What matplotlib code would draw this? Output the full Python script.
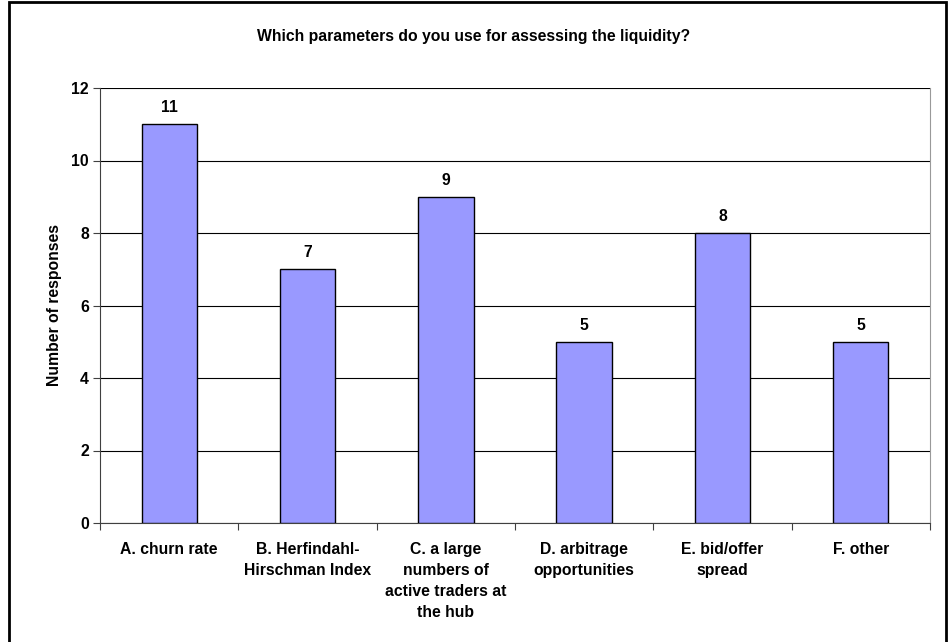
import matplotlib
matplotlib.use('Agg')
import matplotlib.pyplot as plt
from matplotlib.patches import Rectangle

# --- Data ---
CATEGORIES = [
    'A. churn rate',
    'B. Herfindahl-\nHirschman Index',
    'C. a large\nnumbers of\nactive traders at\nthe hub',
    'D. arbitrage\nopportunities',
    'E. bid/offer\nspread',
    'F. other',
]
RESPONSES = [11, 7, 9, 5, 8, 5]
Y_TICKS = [0, 2, 4, 6, 8, 10, 12]

TITLE = 'Which parameters do you use for assessing the liquidity?'
Y_LABEL = 'Number of responses'

BAR_COLOR = '#9999FF'
FS = 11.3

plt.rcParams['font.family'] = ['Liberation Sans', 'DejaVu Sans']
plt.rcParams['font.weight'] = 'bold'

fig = plt.figure(figsize=(9.49, 6.42), dpi=100)
W, H = 949, 642
ax = fig.add_axes([100 / W, (H - 523) / H, 830 / W, 435 / H])

x = list(range(len(CATEGORIES)))
bars = ax.bar(x, RESPONSES, width=0.4, color=BAR_COLOR, edgecolor='black',
              linewidth=1.0, zorder=3)

# value labels above bars
for b, v in zip(bars, RESPONSES):
    ax.annotate(str(v), (b.get_x() + b.get_width() / 2, v), xytext=(0, 6.5),
                textcoords='offset points', ha='center', va='bottom',
                fontsize=FS, fontweight='bold')

ax.set_xlim(-0.5, len(CATEGORIES) - 0.5)
ax.set_ylim(0, 12)
ax.set_yticks(Y_TICKS)
ax.yaxis.grid(True, color='black', linewidth=0.8, zorder=0)
ax.set_axisbelow(True)

# category labels centred, tick marks on category boundaries
ax.set_xticks(x)
ax.set_xticklabels(CATEGORIES, fontsize=FS, fontweight='bold', linespacing=1.48)
ax.tick_params(axis='x', which='major', length=0, pad=14)
ax.set_xticks([i - 0.5 for i in range(len(CATEGORIES) + 1)], minor=True)
ax.tick_params(axis='x', which='minor', length=5, width=0.8, color='#404040', direction='out')
ax.tick_params(axis='y', length=5, width=0.8, color='#404040', labelsize=FS, pad=3)
for lbl in ax.get_yticklabels():
    lbl.set_fontweight('bold')

ax.spines['top'].set_visible(False)
ax.spines['left'].set_color('#404040')
ax.spines['bottom'].set_color('#404040')
ax.spines['right'].set_color('#999999')
for s in ax.spines.values():
    s.set_linewidth(0.8)

ax.set_ylabel(Y_LABEL, fontsize=FS, fontweight='bold', labelpad=7)
fig.text(474 / W, 1 - 37 / H, TITLE, ha='center', va='center',
         fontsize=FS, fontweight='bold')

# outer chart border (left, top, right)
fig.patches.append(Rectangle((9 / W, -0.05), (946 - 9) / W, 1.05 - 2 / H,
                             transform=fig.transFigure, fill=False,
                             edgecolor='black', linewidth=2))

fig.savefig('out.png', dpi=100)
